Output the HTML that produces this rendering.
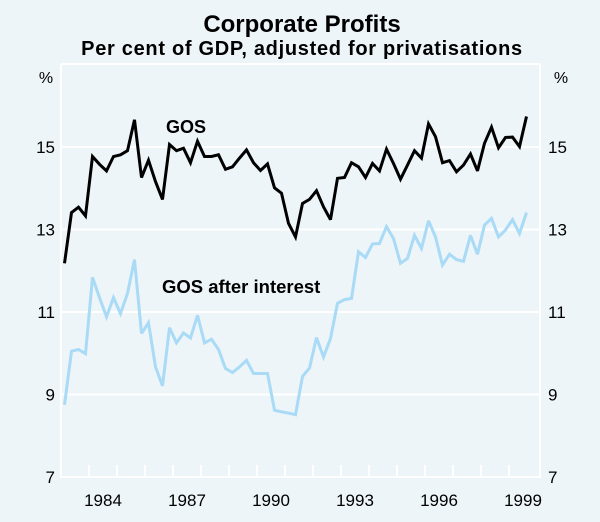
<!DOCTYPE html>
<html><head><meta charset="utf-8">
<style>
html,body{margin:0;padding:0;background:#EDF5F9;}
svg{display:block;font-family:"Liberation Sans",Arial,sans-serif;}
</style></head>
<body>
<svg id="chart" width="600" height="522" viewBox="0 0 600 522">
<rect x="0" y="0" width="600" height="522" fill="#EDF5F9"/>
<text x="302" y="32" text-anchor="middle" font-size="24" font-weight="bold" fill="#000">Corporate Profits</text>
<text x="302" y="55" text-anchor="middle" font-size="20" font-weight="bold" letter-spacing="0.7" fill="#000">Per cent of GDP, adjusted for privatisations</text>
<text x="46" y="83" text-anchor="middle" font-size="16" fill="#000">%</text>
<text x="561" y="83" text-anchor="middle" font-size="16" fill="#000">%</text>
<g id="grid"></g>
<g id="axes"></g>
<g id="series"></g>
<text x="166" y="133" font-size="18" font-weight="bold" fill="#000">GOS</text>
<text x="162" y="293" font-size="18.5" font-weight="bold" fill="#000">GOS after interest</text>
</svg>
<script>
const startYear = 1983.125;
const yTicks = [7, 9, 11, 13, 15];
const yearLabels = [1984, 1987, 1990, 1993, 1996, 1999];
const gos = [12.18,13.41,13.54,13.33,14.77,14.58,14.42,14.77,14.81,14.91,15.66,14.26,14.68,14.16,13.73,15.06,14.91,14.97,14.62,15.14,14.77,14.77,14.81,14.46,14.52,14.73,14.93,14.62,14.43,14.59,14.01,13.88,13.15,12.82,13.63,13.73,13.94,13.55,13.24,14.24,14.26,14.62,14.52,14.26,14.6,14.42,14.95,14.6,14.22,14.56,14.91,14.73,15.56,15.25,14.62,14.67,14.4,14.56,14.83,14.42,15.09,15.48,14.98,15.23,15.24,15.01,15.74];
const gosAfterInterest = [8.75,10.05,10.09,9.99,11.84,11.35,10.88,11.35,10.96,11.45,12.27,10.48,10.74,9.67,9.21,10.62,10.25,10.49,10.37,10.92,10.25,10.34,10.09,9.63,9.53,9.67,9.83,9.51,9.51,9.51,8.62,8.58,8.55,8.51,9.44,9.64,10.38,9.91,10.36,11.21,11.3,11.33,12.46,12.32,12.65,12.66,13.07,12.78,12.18,12.3,12.86,12.54,13.21,12.82,12.14,12.4,12.27,12.23,12.86,12.4,13.11,13.27,12.82,12.99,13.24,12.9,13.41];

const NS = "http://www.w3.org/2000/svg";
const L = 61, R = 540, T = 64, B = 477;
function xScale(t){ return L + (t - 1983) * 28; }
function yScale(v){ return 147 + (15 - v) * 41.25; }
function mk(tag, attrs, parent){ const e = document.createElementNS(NS, tag); for (const k in attrs) e.setAttribute(k, attrs[k]); parent.appendChild(e); return e; }

const grid = document.getElementById('grid');
const axes = document.getElementById('axes');
const series = document.getElementById('series');

yTicks.forEach(v => {
  const y = yScale(v);
  if (v > 7) {
    const g = mk('line', {x1:L, x2:R, y1:y, y2:y, stroke:'#fff', 'stroke-width':2}, grid);
    
    
  }
  const tl = mk('text', {x:55, y:y+6, 'text-anchor':'end', 'font-size':17, fill:'#000'}, axes);
  tl.textContent = v;
  
  
  const tr = mk('text', {x:548, y:y+6, 'text-anchor':'start', 'font-size':17, fill:'#000'}, axes);
  tr.textContent = v;
  
  
});

const frame = mk('path', {d:`M${L},${T} V${B} H${R} V${T}`, fill:'none', stroke:'#fff', 'stroke-width':2}, axes);


const topLine = mk('line', {x1:L, x2:R, y1:T, y2:T, stroke:'#fff', 'stroke-width':2}, axes);



for (let yr = 1984; yr <= 1999; yr++) {
  const x = xScale(yr);
  const tk = mk('line', {x1:x, x2:x, y1:B, y2:B-12, stroke:'#fff', 'stroke-width':2}, axes);
  
  
}
yearLabels.forEach(yr => {
  const t = mk('text', {x:xScale(yr + 0.5), y:506, 'text-anchor':'middle', 'font-size':17, fill:'#000'}, axes);
  t.textContent = yr;
  
  
});

function line(data, color, name){
  const pts = data.map((v, i) => xScale(startYear + i * 0.25).toFixed(1) + ',' + yScale(v).toFixed(1)).join(' ');
  const p = mk('polyline', {points:pts, fill:'none', stroke:color, 'stroke-width':3, 'stroke-linejoin':'miter', 'stroke-miterlimit':3}, series);
  
  
}
line(gosAfterInterest, '#A9DAF6', 'gos-after-interest-line');
line(gos, '#000000', 'gos-line');
</script>
</body></html>
